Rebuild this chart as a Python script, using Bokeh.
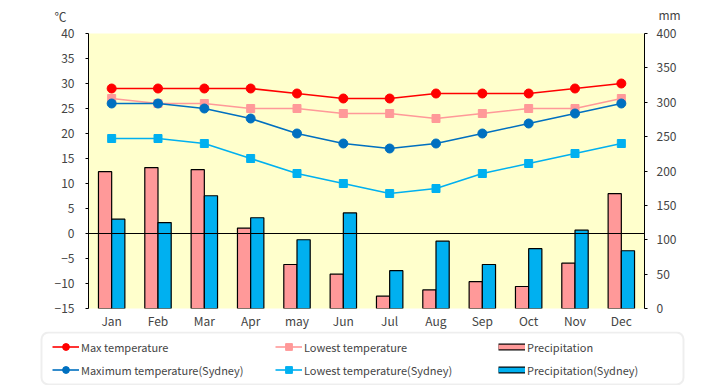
from bokeh.plotting import figure
from bokeh.layouts import column
from bokeh.models import (Range1d, LinearAxis, FixedTicker, Span, Legend, LegendItem, Label, BoxAnnotation, Plot)
from bokeh.transform import dodge
from bokeh.embed import file_html
from bokeh.resources import INLINE

months = ["Jan", "Feb", "Mar", "Apr", "may", "Jun", "Jul", "Aug", "Sep", "Oct", "Nov", "Dec"]
max_temp = [29, 29, 29, 29, 28, 27, 27, 28, 28, 28, 29, 30]
low_temp = [27, 26, 26, 25, 25, 24, 24, 23, 24, 25, 25, 27]
precip = [199, 205, 202, 117, 64, 50, 18, 27, 39, 32, 66, 167]
syd_max = [26, 26, 25, 23, 20, 18, 17, 18, 20, 22, 24, 26]
syd_low = [19, 19, 18, 15, 12, 10, 8, 9, 12, 14, 16, 18]
syd_precip = [130, 125, 164, 132, 100, 139, 55, 98, 64, 87, 114, 84]
temp_ticks = list(range(-15, 41, 5))
mm_ticks = list(range(0, 401, 50))
series_names = ["Max temperature", "Maximum temperature(Sydney)", "Lowest temperature",
                "Lowest temperature(Sydney)", "Precipitation", "Precipitation(Sydney)"]

FONT = "Noto Sans CJK JP"
RED, PINK, DBLUE, LBLUE = "#FF0000", "#FF9999", "#0070C0", "#00B0F0"
W = 720
HAS_FA = "frame_align" in Plot.properties()


def no_align(f):
    if HAS_FA:
        f.frame_align = False
    return f


def blank_fig(h, yr):
    f = figure(width=W, height=h, x_range=Range1d(0, W), y_range=Range1d(0, yr),
               output_backend="svg", toolbar_location=None,
               x_axis_location=None, y_axis_location=None,
               min_border_left=0, min_border_right=0, min_border_top=0, min_border_bottom=0)
    f.outline_line_color = None
    f.xgrid.grid_line_color = None
    f.ygrid.grid_line_color = None
    f.background_fill_color = "white"
    f.border_fill_color = "white"
    return no_align(f)


# ---------- header with unit labels ----------
head = blank_fig(23, 23)
head.add_layout(Label(x=54, y=7.5, text="℃", text_font=FONT, text_font_size="12px",
                      text_baseline="middle", text_align="left"))
head.add_layout(Label(x=658, y=9, text="mm", text_font=FONT, text_font_size="12px",
                      text_baseline="middle", text_align="left"))

# ---------- main chart ----------
p = figure(x_range=months, y_range=Range1d(-15, 40), width=W, height=308,
           output_backend="svg", toolbar_location=None,
           min_border_left=88, min_border_right=76, min_border_top=10, min_border_bottom=23)
no_align(p)
p.extra_y_ranges = {"mm": Range1d(0, 400)}
p.background_fill_color = "#FFFFCC"
p.border_fill_color = "white"
p.outline_line_color = None
p.xgrid.grid_line_color = None
p.ygrid.grid_line_color = None

data = dict(month=months, max_temp=max_temp, low_temp=low_temp, precip=precip,
            syd_max=syd_max, syd_low=syd_low, syd_precip=syd_precip)

p.vbar(x=dodge("month", -0.1425, range=p.x_range), top="precip", bottom=0, width=0.285,
       source=data, y_range_name="mm", fill_color=PINK, line_color="black", line_width=1.2)
p.vbar(x=dodge("month", 0.1425, range=p.x_range), top="syd_precip", bottom=0, width=0.285,
       source=data, y_range_name="mm", fill_color=LBLUE, line_color="black", line_width=1.2)

p.add_layout(Span(location=0, dimension="width", line_color="black", line_width=1))

for col, color, marker, size in [("max_temp", RED, "circle", 9), ("low_temp", PINK, "square", 8),
                                 ("syd_max", DBLUE, "circle", 9), ("syd_low", LBLUE, "square", 8)]:
    p.line("month", col, source=data, line_color=color, line_width=1.6)
    p.scatter("month", col, source=data, marker=marker, size=size, fill_color=color, line_color=color)

yax = p.yaxis[0]
yax.ticker = FixedTicker(ticks=temp_ticks)
yax.axis_line_color = "black"
yax.major_tick_out = 3
yax.major_tick_in = 0
yax.minor_tick_line_color = None
yax.major_label_text_font = FONT
yax.major_label_text_font_size = "12px"
yax.major_label_standoff = 11

rax = LinearAxis(y_range_name="mm", ticker=FixedTicker(ticks=mm_ticks))
rax.axis_line_color = "black"
rax.major_tick_out = 3
rax.major_tick_in = 0
rax.minor_tick_line_color = None
rax.major_label_text_font = FONT
rax.major_label_text_font_size = "12px"
rax.major_label_standoff = 9
p.add_layout(rax, "right")

xax = p.xaxis[0]
xax.axis_line_color = None
xax.major_tick_line_color = None
xax.major_tick_out = 0
xax.major_tick_in = 0
xax.minor_tick_line_color = None
xax.minor_tick_out = 0
xax.major_label_text_font = FONT
xax.major_label_text_font_size = "12px"
xax.major_label_standoff = 3

# ---------- legend panel ----------
lg = blank_fig(54, 54)
lg.add_layout(BoxAnnotation(left=41, right=683, bottom=1, top=53,
                            fill_color="white", fill_alpha=1, line_color="#C8C8C8",
                            line_width=2, border_radius=7, level="underlay"))
nan = float("nan")
proxy = dict(x=[nan], y=[nan])
r_max = [lg.line("x", "y", source=proxy, line_color=RED, line_width=1.6),
         lg.scatter("x", "y", source=proxy, marker="circle", fill_color=RED, line_color=RED)]
r_smax = [lg.line("x", "y", source=proxy, line_color=DBLUE, line_width=1.6),
          lg.scatter("x", "y", source=proxy, marker="circle", fill_color=DBLUE, line_color=DBLUE)]
r_low = [lg.line("x", "y", source=proxy, line_color=PINK, line_width=1.6),
         lg.scatter("x", "y", source=proxy, marker="square", fill_color=PINK, line_color=PINK)]
r_slow = [lg.line("x", "y", source=proxy, line_color=LBLUE, line_width=1.6),
          lg.scatter("x", "y", source=proxy, marker="square", fill_color=LBLUE, line_color=LBLUE)]
r_pr = [lg.line("x", "y", source=proxy, line_color="black", line_width=7),
        lg.line("x", "y", source=proxy, line_color=PINK, line_width=4.6)]
r_spr = [lg.line("x", "y", source=proxy, line_color="black", line_width=7),
         lg.line("x", "y", source=proxy, line_color=LBLUE, line_width=4.6)]
items = [LegendItem(label=n, renderers=r) for n, r in
         zip(series_names, [r_max, r_smax, r_low, r_slow, r_pr, r_spr])]
leg = Legend(items=items, ncols=3, location=(52, 7), orientation="vertical",
             glyph_width=27, glyph_height=17, label_height=17, label_standoff=2,
             label_width=188, spacing=6, padding=0, margin=0,
             border_line_color=None, background_fill_alpha=0,
             label_text_font=FONT, label_text_font_size="11px")
lg.add_layout(leg, "center")

layout = column(head, p, lg, spacing=0)
open("out.html", "w").write(file_html(layout, INLINE))
